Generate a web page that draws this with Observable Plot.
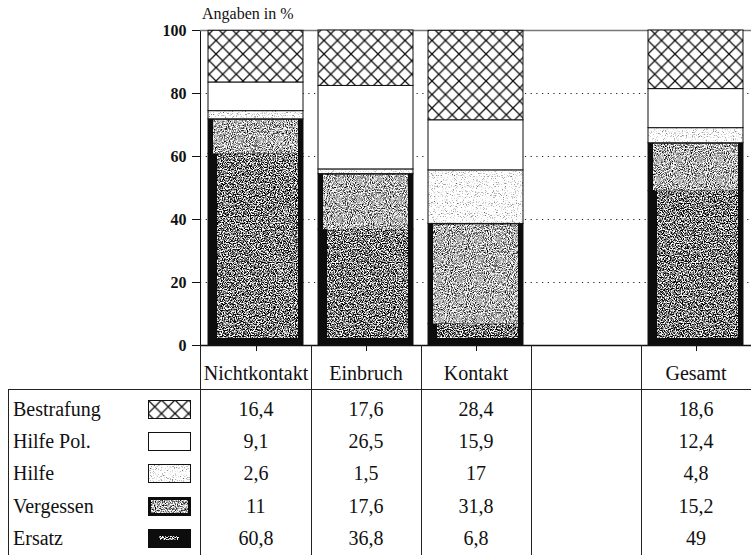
<!DOCTYPE html>
<html><head><meta charset="utf-8">
<script src="https://cdn.jsdelivr.net/npm/d3@7"></script>
<script src="https://cdn.jsdelivr.net/npm/@observablehq/plot@0.6"></script>
<style>
html,body{margin:0;padding:0;background:#fff}
#wrap{position:relative;width:751px;height:555px;overflow:hidden;font-family:"Liberation Serif","Times New Roman",serif;color:#111;background:#fff}
#chart{position:absolute;left:0;top:0}
#chart svg text{font-family:"Liberation Serif",serif !important;font-size:16px !important;font-weight:bold !important}
.cell{position:absolute;font-size:20px;height:26px;line-height:26px;white-space:nowrap;font-family:"Liberation Serif",serif}
.ln{position:absolute;background:#222}
.sw{position:absolute}
</style></head><body>
<svg width="0" height="0" style="position:absolute">
<defs>
  <filter id="fDark" x="0" y="0" width="1" height="1" color-interpolation-filters="sRGB">
    <feTurbulence type="fractalNoise" baseFrequency="0.85" numOctaves="2" seed="7"/>
    <feColorMatrix type="matrix" values="1 0 0 0 0  1 0 0 0 0  1 0 0 0 0  0 0 0 0 1"/>
    <feComponentTransfer>
      <feFuncR type="linear" slope="4" intercept="-1.5"/>
      <feFuncG type="linear" slope="4" intercept="-1.5"/>
      <feFuncB type="linear" slope="4" intercept="-1.5"/>
    </feComponentTransfer>
  </filter>
  <filter id="fMed" x="0" y="0" width="1" height="1" color-interpolation-filters="sRGB">
    <feTurbulence type="fractalNoise" baseFrequency="0.95" numOctaves="2" seed="3"/>
    <feColorMatrix type="matrix" values="1 0 0 0 0  1 0 0 0 0  1 0 0 0 0  0 0 0 0 1"/>
    <feComponentTransfer>
      <feFuncR type="linear" slope="2.6" intercept="-0.6"/>
      <feFuncG type="linear" slope="2.6" intercept="-0.6"/>
      <feFuncB type="linear" slope="2.6" intercept="-0.6"/>
    </feComponentTransfer>
  </filter>
  <filter id="fLight" x="0" y="0" width="1" height="1" color-interpolation-filters="sRGB">
    <feTurbulence type="fractalNoise" baseFrequency="0.9" numOctaves="2" seed="11"/>
    <feColorMatrix type="matrix" values="1 0 0 0 0  1 0 0 0 0  1 0 0 0 0  0 0 0 0 1"/>
    <feComponentTransfer>
      <feFuncR type="linear" slope="2" intercept="0.12"/>
      <feFuncG type="linear" slope="2" intercept="0.12"/>
      <feFuncB type="linear" slope="2" intercept="0.12"/>
    </feComponentTransfer>
  </filter>
  <pattern id="pDark" width="120" height="120" patternUnits="userSpaceOnUse"><rect width="120" height="120" filter="url(#fDark)"/></pattern>
  <pattern id="pMed" width="120" height="120" patternUnits="userSpaceOnUse"><rect width="120" height="120" filter="url(#fMed)"/></pattern>
  <pattern id="pLight" width="120" height="120" patternUnits="userSpaceOnUse"><rect width="120" height="120" filter="url(#fLight)"/></pattern>
  <pattern id="pHatch" width="13.5" height="13.5" patternUnits="userSpaceOnUse">
    <rect width="13.5" height="13.5" fill="#fff"/>
    <path d="M0,0L13.5,13.5M13.5,0L0,13.5" stroke="#111" stroke-width="1.3"/>
  </pattern>
</defs>
</svg>
<div id="wrap"><div id="chart"></div></div>
<script>
// ---- data ----
const categories = ["Nichtkontakt", "Einbruch", "Kontakt", " ", "Gesamt"];
const stackOrder = ["Ersatz", "Vergessen", "Hilfe", "Hilfe Pol.", "Bestrafung"]; // bottom -> top
const ersatz     = [60.8, 36.8, 6.8, null, 49];
const vergessen  = [11, 17.6, 31.8, null, 15.2];
const hilfe      = [2.6, 1.5, 17, null, 4.8];
const hilfePol   = [9.1, 26.5, 15.9, null, 12.4];
const bestrafung = [16.4, 17.6, 28.4, null, 18.6];
const yTicks = [0, 20, 40, 60, 80, 100];
const gridTicks = [20, 40, 60, 80];
const tableRows = ["Bestrafung", "Hilfe Pol.", "Hilfe", "Vergessen", "Ersatz"]; // top -> bottom
const yAxisTitle = "Angaben in %";

const valuesBySeries = {"Ersatz": ersatz, "Vergessen": vergessen, "Hilfe": hilfe, "Hilfe Pol.": hilfePol, "Bestrafung": bestrafung};
const data = [];
categories.forEach((c, i) => stackOrder.forEach(s => {
  const v = valuesBySeries[s][i];
  if (v != null) data.push({cat: c, series: s, value: v});
}));

const outerFill = {"Ersatz": "#0d0d0d", "Vergessen": "#0d0d0d", "Hilfe": "url(#pLight)", "Hilfe Pol.": "#ffffff", "Bestrafung": "url(#pHatch)"};

const plot = Plot.plot({
  width: 751, height: 364,
  marginLeft: 200, marginRight: 0, marginTop: 30, marginBottom: 19,
  style: {fontFamily: "Liberation Serif, serif", fontSize: "16px", fontWeight: "bold", background: "transparent", color: "#111"},
  x: {domain: categories, padding: 0, ticks: categories.filter(c => c.trim() !== ""), tickSize: 6, tickFormat: () => "", label: null},
  y: {domain: [0, 100], ticks: yTicks, tickSize: 8, tickPadding: 6, line: true, label: null, tickFormat: d => String(d)},
  marks: [
    Plot.ruleY(gridTicks, {stroke: "#222", strokeWidth: 1.2, strokeDasharray: "1.2,4.5"}),
    Plot.ruleY([100], {stroke: "#777", strokeWidth: 1.5}),
    ...stackOrder.map(s => Plot.barY(data, Plot.filter(d => d.series === s,
      Plot.stackY({x: "cat", y: "value", insetLeft: 7, insetRight: 8, fill: outerFill[s], stroke: "#111", strokeWidth: 1})))),
    Plot.barY(data, Plot.filter(d => d.series === "Vergessen",
      Plot.stackY({x: "cat", y: "value", insetLeft: 12, insetRight: 13, insetTop: 1, fill: "url(#pMed)"}))),
    Plot.barY(data, Plot.filter(d => d.series === "Ersatz",
      Plot.stackY({x: "cat", y: "value", insetLeft: 16, insetRight: 13, insetBottom: 7, fill: "url(#pDark)"}))),
    Plot.ruleY([0], {stroke: "#111", strokeWidth: 1.5})
  ]
});
const wrap = document.getElementById("wrap");
document.getElementById("chart").appendChild(plot);

// ---- layout helpers for the data table ----
const xsc = plot.scale("x");
const bw = xsc.bandwidth;
const left0 = xsc.range[0];
const fmt = v => String(v).replace(".", ",");
function el(cls, css, text) {
  const d = document.createElement("div");
  d.className = cls;
  Object.assign(d.style, css);
  if (text != null) d.textContent = text;
  wrap.appendChild(d);
  return d;
}

// axis title
el("cell", {left: "202px", top: "4px", fontSize: "16px", height: "20px", lineHeight: "20px"}, yAxisTitle);

const tableTop = 389, bottom = 555, axisBottom = 345;
// lines
el("ln", {left: "8px", top: tableTop + "px", width: (751 - 8) + "px", height: "1px"});
el("ln", {left: "8px", top: tableTop + "px", width: "1px", height: (bottom - tableTop) + "px"});
el("ln", {left: (left0 - 0.5) + "px", top: axisBottom + "px", width: "1px", height: (bottom - axisBottom) + "px"});
categories.slice(1).forEach(c => {
  el("ln", {left: (xsc.apply(c) - 0.5) + "px", top: axisBottom + "px", width: "1px", height: (bottom - axisBottom) + "px"});
});

// header
categories.forEach(c => {
  const cx = xsc.apply(c) + bw / 2;
  el("cell", {left: (cx - 60) + "px", width: "120px", textAlign: "center", top: (373 - 13) + "px"}, c.trim());
});

// rows
const rowCenters = [409, 441, 473, 506, 538];
const swatchSvg = {
  "Bestrafung": '<rect x="0.5" y="0.5" width="42" height="18" fill="url(#pHatch)" stroke="#111"/>',
  "Hilfe Pol.": '<rect x="0.5" y="0.5" width="42" height="18" fill="#fff" stroke="#111"/>',
  "Hilfe": '<rect x="0.5" y="0.5" width="42" height="18" fill="url(#pLight)" stroke="#111"/>',
  "Vergessen": '<rect x="0" y="0" width="43" height="19" fill="#0d0d0d"/><rect x="3" y="3" width="37" height="13" fill="url(#pMed)"/>',
  "Ersatz": '<rect x="0" y="0" width="43" height="19" fill="#0d0d0d"/><rect x="11" y="7" width="20" height="4" fill="url(#pDark)"/>'
};
tableRows.forEach((s, r) => {
  const cy = rowCenters[r];
  el("cell", {left: "13px", top: (cy - 13) + "px"}, s);
  const sw = el("sw", {left: "148px", top: (cy - 9.5) + "px", width: "43px", height: "19px"});
  sw.innerHTML = '<svg width="43" height="19" style="display:block">' + swatchSvg[s] + '</svg>';
  categories.forEach((c, i) => {
    const v = valuesBySeries[s][i];
    if (v == null) return;
    const cx = xsc.apply(c) + bw / 2;
    el("cell", {left: (cx - 50) + "px", width: "100px", textAlign: "center", top: (cy - 13) + "px"}, fmt(v));
  });
});
</script>
</body></html>
